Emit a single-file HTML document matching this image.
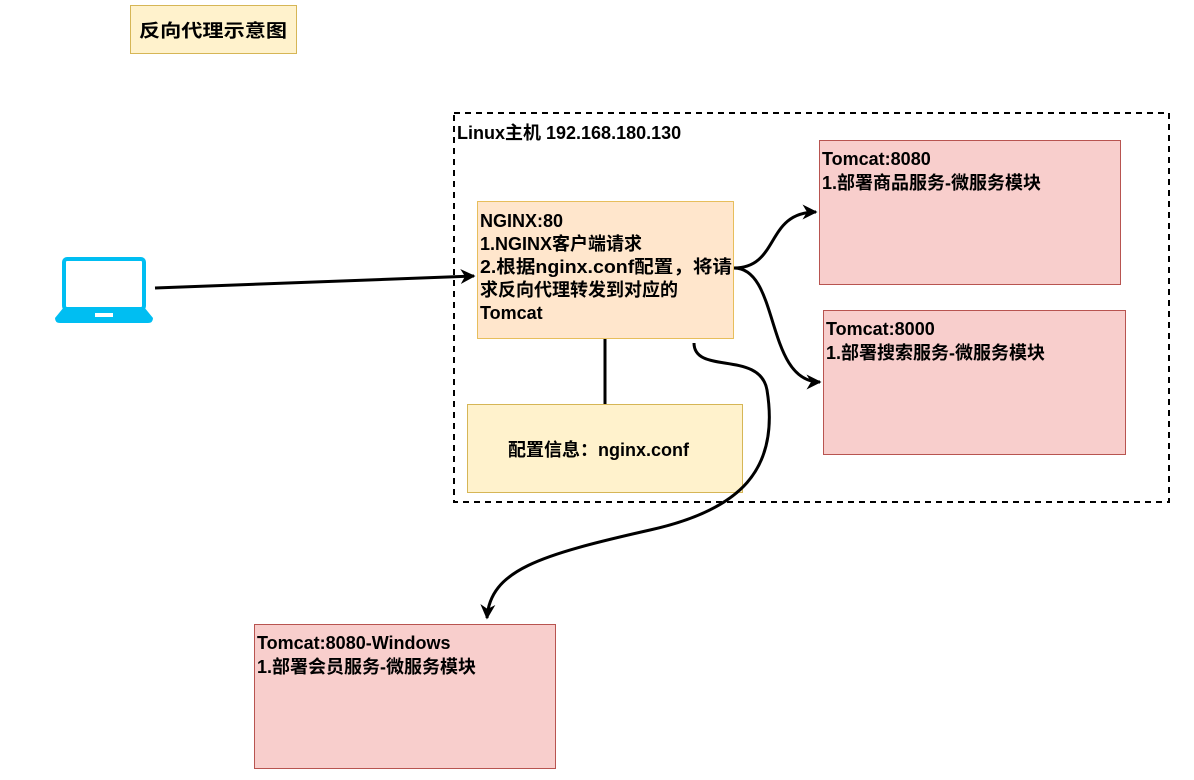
<!DOCTYPE html>
<html><head><meta charset="utf-8"><style>
body{margin:0;background:#fff;}
svg text{font-family:"Liberation Sans","Noto Sans CJK SC",sans-serif;font-weight:bold;font-size:18px;fill:#000;}
</style></head><body>
<svg width="1194" height="775" viewBox="0 0 1194 775" xmlns="http://www.w3.org/2000/svg">
<defs><marker id="a" viewBox="0 0 10 10" refX="9" refY="5" markerWidth="5" markerHeight="5" orient="auto"><path d="M0,0 L10,5 L0,10 L3,5 z" fill="#000"/></marker></defs>
<rect x="130.5" y="5.5" width="166" height="48" fill="#fff2cc" stroke="#d6b656"/>
<text x="139" y="37" font-size="21" textLength="148" lengthAdjust="spacingAndGlyphs">反向代理示意图</text>
<rect x="454" y="113" width="715" height="389" fill="none" stroke="#000" stroke-width="2" stroke-dasharray="6,5"/>
<text x="457" y="139">Linux主机 192.168.180.130</text>
<rect x="477.5" y="201.5" width="256" height="137" fill="#ffe6cc" stroke="#d79b00" stroke-opacity="0.6"/>
<text x="480" y="227">NGINX:80</text>
<text x="480" y="250">1.NGINX客户端请求</text>
<text x="480" y="273" textLength="252" lengthAdjust="spacingAndGlyphs">2.根据nginx.conf配置，将请</text>
<text x="480" y="296">求反向代理转发到对应的</text>
<text x="480" y="319">Tomcat</text>
<rect x="467.5" y="404.5" width="275" height="88" fill="#fff2cc" stroke="#d6b656"/>
<text x="508" y="456">配置信息：nginx.conf</text>
<line x1="605" y1="339" x2="605" y2="404" stroke="#000" stroke-width="3"/>
<rect x="819.5" y="140.5" width="301" height="144" fill="#f8cecc" stroke="#b85450"/>
<text x="822" y="165">Tomcat:8080</text>
<text x="822" y="189">1.部署商品服务-微服务模块</text>
<rect x="823.5" y="310.5" width="302" height="144" fill="#f8cecc" stroke="#b85450"/>
<text x="826" y="335">Tomcat:8000</text>
<text x="826" y="359">1.部署搜索服务-微服务模块</text>
<rect x="254.5" y="624.5" width="301" height="144" fill="#f8cecc" stroke="#b85450"/>
<text x="257" y="649">Tomcat:8080-Windows</text>
<text x="257" y="673">1.部署会员服务-微服务模块</text>
<rect x="64" y="259" width="80" height="50" rx="3" fill="none" stroke="#00bef2" stroke-width="4"/>
<path d="M64,307 L144,307 L153,318 Q153,323 148,323 L60,323 Q55,323 55,318 Z" fill="#00bef2"/>
<rect x="95" y="313" width="18" height="4" fill="#fff"/>
<line x1="155" y1="288" x2="474" y2="276" stroke="#000" stroke-width="3" marker-end="url(#a)"/>
<path d="M734,268 C780,268 765,212 816,212" fill="none" stroke="#000" stroke-width="3" marker-end="url(#a)"/>
<path d="M734,268 C780,268 765,382 820,382" fill="none" stroke="#000" stroke-width="3" marker-end="url(#a)"/>
<path d="M694,343 C694,375 760,350 767,390 C780,470 740,510 650,530 C540,555 490,570 487,618" fill="none" stroke="#000" stroke-width="3" marker-end="url(#a)"/>
</svg>
</body></html>
